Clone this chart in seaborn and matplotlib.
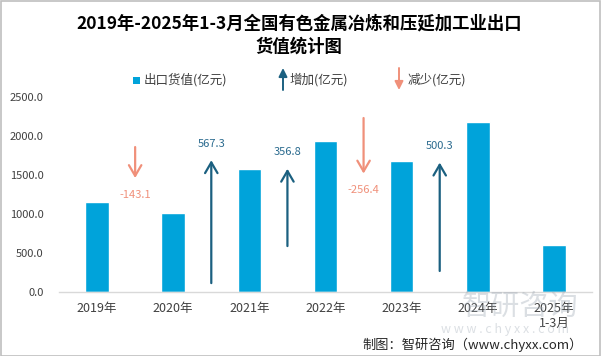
import matplotlib
matplotlib.use('Agg')
import matplotlib.pyplot as plt
import seaborn as sns
import pandas as pd
from matplotlib.patches import Rectangle, FancyArrowPatch

# ---------------- data ----------------
years = ['2019年', '2020年', '2021年', '2022年', '2023年', '2024年', '2025年\n1-3月']
export_value = [1156.4, 1013.3, 1580.6, 1937.4, 1681.0, 2181.3, 603.0]   # 亿元
changes = [-143.1, 567.3, 356.8, -256.4, 500.3]                          # 亿元
arrow_start = [669, 41, 212, 803, 97]   # helper series on the secondary (0-900) scale
y_ticks = [0, 500, 1000, 1500, 2000, 2500]

title = '2019年-2025年1-3月全国有色金属冶炼和压延加工业出口\n货值统计图'
legend_labels = ['出口货值(亿元)', '增加(亿元)', '减少(亿元)']
credit = '制图：智研咨询（www.chyxx.com）'

BAR = '#00A3DA'
UP = '#1B6080'
UP_TXT = '#2A6A8E'
DOWN = '#F0907A'

sns.set_theme(style='white')
plt.rcParams['font.family'] = ['Noto Sans CJK SC', 'DejaVu Sans']
plt.rcParams['axes.unicode_minus'] = False

W, H = 601, 356
fig = plt.figure(figsize=(W / 100, H / 100), dpi=100)
ax = fig.add_axes([59 / W, 1 - 292 / H, (592 - 59) / W, (292 - 97) / H])

df = pd.DataFrame({'year': years, 'value': export_value})
sns.barplot(data=df, x='year', y='value', color=BAR, saturation=1, width=0.31, ax=ax)

ax.set_xlim(-0.5, len(years) - 0.5)
ax.set_ylim(0, 2500)
ax.set_yticks(y_ticks)
ax.set_yticklabels([f'{v:.1f}' for v in y_ticks], fontsize=8, color='#404040')
ax.tick_params(axis='y', length=0, pad=11)
ax.tick_params(axis='x', length=0, pad=7, labelsize=9, colors='#404040')
ax.set_xlabel('')
ax.set_ylabel('')
for s in ['left', 'top', 'right']:
    ax.spines[s].set_visible(False)
ax.spines['bottom'].set_color('#D9D9D9')
ax.spines['bottom'].set_linewidth(1)
ax.grid(False)

# change arrows on secondary scale
ax2 = ax.twinx()
ax2.set_ylim(0, 900)
ax2.axis('off')
for i, (c, s) in enumerate(zip(changes, arrow_start)):
    x = i + 0.5
    end = s + c
    col = UP if c > 0 else DOWN
    ax2.annotate('', xy=(x, end), xytext=(x, s),
                 arrowprops=dict(arrowstyle='->,head_length=0.55,head_width=0.32',
                                 color=col, lw=1.6, shrinkA=0, shrinkB=0,
                                 mutation_scale=14))
    ax2.annotate(f'{c:.1f}', xy=(x, end), xytext=(0, 12 if c > 0 else -12),
                 textcoords='offset points', ha='center', va='center',
                 fontsize=8, color=UP_TXT if c > 0 else DOWN)

# title
fig.text(299 / W, 1 - 35 / H, title, ha='center', va='center', fontsize=12.5,
         fontweight='bold', linespacing=1.35, color='#000000')

# legend (manual)
ly = 1 - 80 / H
fig.patches.append(Rectangle((133 / W, 1 - 84 / H), 7 / W, 7 / H, transform=fig.transFigure,
                             facecolor=BAR, edgecolor='none'))
fig.text(144 / W, ly, legend_labels[0], ha='left', va='center', fontsize=9, color='#404040')
fig.patches.append(FancyArrowPatch((283 / W, 1 - 90 / H), (283 / W, 1 - 68 / H),
                                   transform=fig.transFigure,
                                   arrowstyle='-|>,head_length=0.5,head_width=0.25',
                                   mutation_scale=10, color=UP, lw=1.4, shrinkA=0, shrinkB=0))
fig.text(290 / W, ly, legend_labels[1], ha='left', va='center', fontsize=9, color='#404040')
fig.patches.append(FancyArrowPatch((399 / W, 1 - 68 / H), (399 / W, 1 - 90 / H),
                                   transform=fig.transFigure,
                                   arrowstyle='-|>,head_length=0.5,head_width=0.25',
                                   mutation_scale=10, color=DOWN, lw=1.4, shrinkA=0, shrinkB=0))
fig.text(408 / W, ly, legend_labels[2], ha='left', va='center', fontsize=9, color='#404040')

# watermark
fig.text(520 / W, 1 - 307 / H, '智研咨询', ha='center', va='center', fontsize=21,
         color='#9AA5B1', alpha=0.35)
fig.text(505 / W, 1 - 329 / H, 'w w w . c h y x x . c o m', ha='center', va='center',
         fontsize=9, color='#9AA5B1', alpha=0.35)

# credit
fig.text(583 / W, 1 - 345 / H, credit, ha='right', va='center', fontsize=9.5, color='#262626')

# border
fig.patches.append(Rectangle((0.5 / W, 0.5 / H), (W - 1.5) / W, (H - 1.5) / H,
                             transform=fig.transFigure, fill=False,
                             edgecolor='#BFBFBF', lw=1.2))

fig.savefig('out.png', dpi=100)
